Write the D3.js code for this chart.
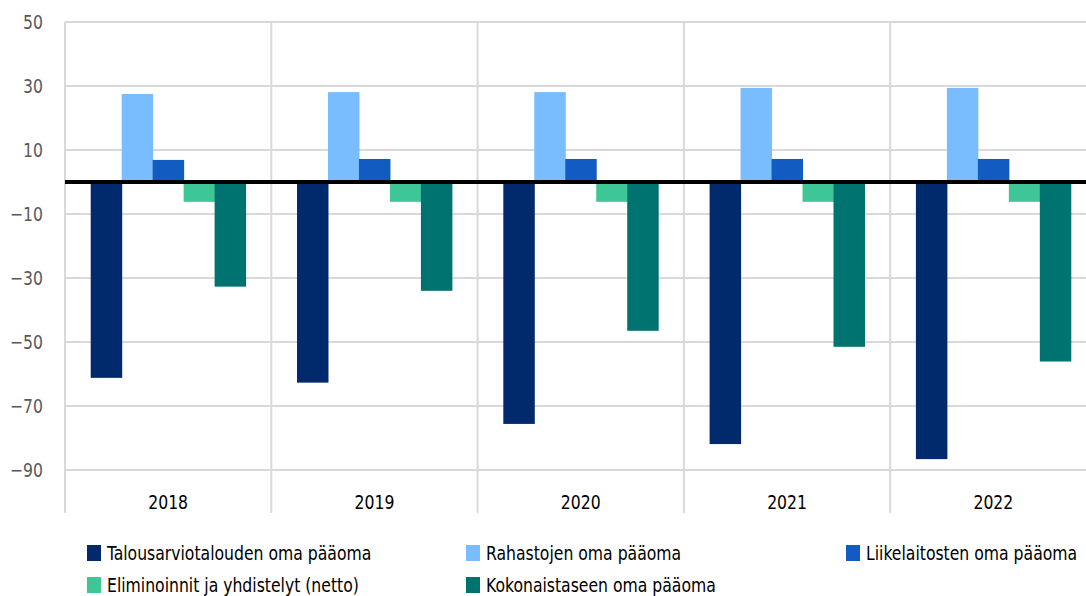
<!DOCTYPE html>
<html>
<head>
<meta charset="utf-8">
<script src="https://cdn.jsdelivr.net/npm/d3@7"></script>
<style>
	body { margin: 0; background: #fff; }
	svg { display: block; font-family: 'Liberation Sans Narrow', 'DejaVu Sans Condensed', sans-serif; }
</style>
</head>
<body>
<div id="chart"></div>
<script>
// data
const years = ['2018', '2019', '2020', '2021', '2022']
const seriesNames = [
	'Talousarviotalouden oma pääoma',
	'Rahastojen oma pääoma',
	'Liikelaitosten oma pääoma',
	'Eliminoinnit ja yhdistelyt (netto)',
	'Kokonaistaseen oma pääoma'
]
const talousarvio = [-61.2, -62.7, -75.6, -81.9, -86.6]
const rahastot = [27.5, 28.1, 28.1, 29.4, 29.4]
const liikelaitokset = [6.9, 7.2, 7.2, 7.2, 7.2]
const eliminoinnit = [-6.2, -6.2, -6.2, -6.2, -6.2]
const kokonais = [-32.7, -34.0, -46.5, -51.5, -56.1]
const yTicks = [50, 30, 10, -10, -30, -50, -70, -90]

const seriesValues = [talousarvio, rahastot, liikelaitokset, eliminoinnit, kokonais]
const colors = ['#002A6C', '#7ABDFF', '#115BC1', '#3EC697', '#007370']

const width = 1086
const height = 596
const plot = { left: 65, top: 22, right: 65 + 5 * 206.3, bottom: 470 }
const squeeze = 0.87 // narrow the fallback font to look condensed

const svg = d3.select('#chart')
	.append('svg')
		.attr('width', width)
		.attr('height', height)

const yScale = d3.scaleLinear()
	.domain([-90, 50])
	.range([plot.bottom, plot.top])

const xScale = d3.scaleBand()
	.domain(years)
	.range([plot.left, plot.right])

const xInner = d3.scaleBand()
	.domain(d3.range(seriesNames.length))
	.range([0, xScale.bandwidth()])
	.paddingOuter(0.83)

// horizontal grid
svg.append('g')
	.selectAll('line')
	.data(yTicks)
	.enter()
	.append('line')
		.attr('x1', plot.left)
		.attr('x2', plot.right)
		.attr('y1', d => yScale(d))
		.attr('y2', d => yScale(d))
		.style('stroke', '#D9D9D9')
		.style('stroke-width', 2)

// vertical category dividers
svg.append('g')
	.selectAll('line')
	.data(years.concat(['end']))
	.enter()
	.append('line')
		.attr('x1', (d, i) => plot.left + i * xScale.step())
		.attr('x2', (d, i) => plot.left + i * xScale.step())
		.attr('y1', plot.top)
		.attr('y2', 513)
		.style('stroke', '#D9D9D9')
		.style('stroke-width', 2)

// y labels
svg.append('g')
	.selectAll('text')
	.data(yTicks)
	.enter()
	.append('text')
		.attr('transform', d => `translate(43, ${yScale(d)}) scale(${squeeze}, 1)`)
		.attr('dy', '0.35em')
		.attr('text-anchor', 'end')
		.style('font-size', '20px')
		.style('fill', '#595959')
		.text(d => d < 0 ? '\u2212' + Math.abs(d) : d)

// bars
const groups = svg.append('g')
	.selectAll('g.year')
	.data(years)
	.enter()
	.append('g')
		.attr('class', 'year')
		.attr('transform', d => `translate(${xScale(d)}, 0)`)

groups.selectAll('rect')
	.data((year, yi) => seriesValues.map((vals, si) => ({ si: si, value: vals[yi] })))
	.enter()
	.append('rect')
		.attr('x', d => xInner(d.si))
		.attr('width', xInner.bandwidth() + 0.5)
		.attr('y', d => yScale(Math.max(0, d.value)))
		.attr('height', d => Math.abs(yScale(d.value) - yScale(0)))
		.style('fill', d => colors[d.si])

// zero line
svg.append('line')
	.attr('x1', plot.left)
	.attr('x2', plot.right)
	.attr('y1', yScale(0))
	.attr('y2', yScale(0))
	.style('stroke', '#000')
	.style('stroke-width', 4)

// category labels
svg.append('g')
	.selectAll('text')
	.data(years)
	.enter()
	.append('text')
		.attr('transform', d => `translate(${xScale(d) + xScale.bandwidth() / 2}, 509) scale(${squeeze}, 1)`)
		.attr('text-anchor', 'middle')
		.style('font-size', '20px')
		.style('fill', '#000')
		.text(d => d)

// legend
const legendPos = [
	{ x: 87, y: 545 }, { x: 466, y: 545 }, { x: 846, y: 545 },
	{ x: 87, y: 577 }, { x: 466, y: 577 }
]

const legend = svg.append('g')
	.selectAll('g.legend')
	.data(seriesNames)
	.enter()
	.append('g')
		.attr('class', 'legend')
		.attr('transform', (d, i) => `translate(${legendPos[i].x}, ${legendPos[i].y})`)

legend.append('rect')
	.attr('width', 14)
	.attr('height', 16)
	.style('fill', (d, i) => colors[i])

legend.append('text')
	.attr('transform', `translate(20, 15) scale(${squeeze}, 1)`)
	.style('font-size', '20px')
	.style('fill', '#000')
	.text(d => d)
</script>
</body>
</html>
